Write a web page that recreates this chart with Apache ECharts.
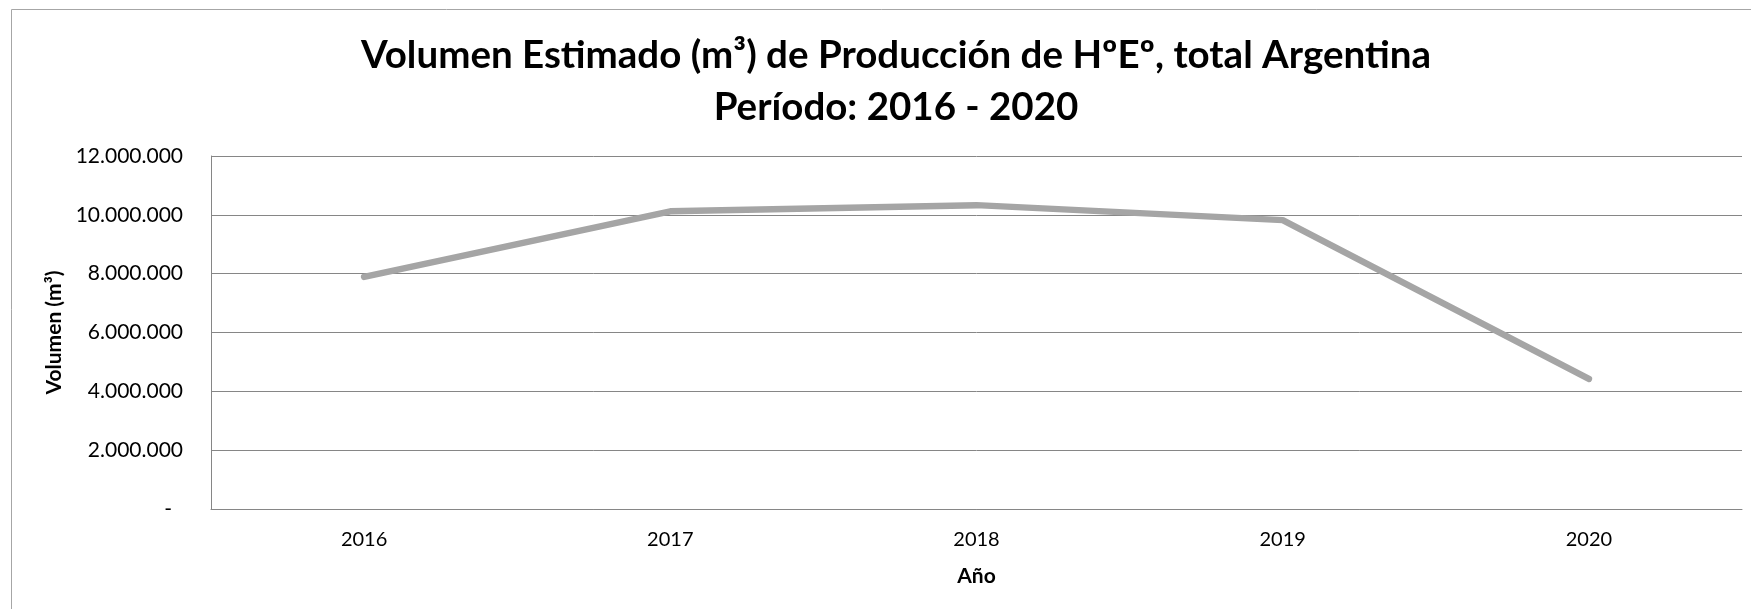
<!DOCTYPE html>
<html>
<head>
<meta charset="utf-8">
<script src="https://cdn.jsdelivr.net/npm/echarts@6/dist/echarts.min.js"></script>
<style>
html,body{margin:0;padding:0;background:#fff;}
#chart{width:1751px;height:609px;}
</style>
</head>
<body>
<div id="chart"></div>
<script>
const categories = ['2016', '2017', '2018', '2019', '2020'];
const volumen = [7890000, 10120000, 10330000, 9820000, 4420000];
const yTicks = { min: 0, max: 12000000, interval: 2000000 };
const titleLines = ['Volumen Estimado (m³) de Producción de HºEº, total Argentina', 'Período: 2016 - 2020'];

const FONT = 'Lato, "Open Sans", sans-serif';
function fmt(v) {
  if (v === 0) return '{z|-}';
  return String(Math.round(v)).replace(/\B(?=(\d{3})+(?!\d))/g, '.');
}

const chart = echarts.init(document.getElementById('chart'), null, { renderer: 'canvas' });
chart.setOption({
  backgroundColor: '#ffffff',
  animation: false,
  title: {
    text: titleLines.join('\n'),
    left: 891,
    textAlign: 'center',
    top: 25,
    textStyle: { fontFamily: FONT, fontWeight: 'bold', fontSize: 38.5, lineHeight: 52, color: '#000' }
  },
  graphic: [
    { type: 'line', shape: { x1: 11.5, y1: 9.5, x2: 1751, y2: 9.5 }, style: { stroke: '#a6a6a6', lineWidth: 1 } },
    { type: 'line', shape: { x1: 11.5, y1: 9.5, x2: 11.5, y2: 609 }, style: { stroke: '#a6a6a6', lineWidth: 1 } }
  ],
  grid: { left: 211, right: 9, top: 156, bottom: 100, containLabel: false },
  xAxis: {
    type: 'category',
    data: categories,
    boundaryGap: true,
    name: 'Año',
    nameLocation: 'middle',
    nameGap: 57,
    nameTextStyle: { fontFamily: FONT, fontWeight: 'bold', fontSize: 21, color: '#000' },
    axisLine: { show: true, lineStyle: { color: '#868686', width: 1 } },
    axisTick: { show: false },
    axisLabel: { fontFamily: FONT, fontSize: 20, color: '#000', margin: 21 },
    splitLine: { show: false }
  },
  yAxis: {
    type: 'value',
    min: yTicks.min,
    max: yTicks.max,
    interval: yTicks.interval,
    name: 'Volumen (m³)',
    nameLocation: 'middle',
    nameGap: 145,
    nameRotate: 90,
    nameTextStyle: { fontFamily: FONT, fontWeight: 'bold', fontSize: 21, color: '#000' },
    axisLine: { show: true, lineStyle: { color: '#868686', width: 1 } },
    axisTick: { show: false },
    axisLabel: {
      fontFamily: FONT, fontSize: 21, color: '#000', margin: 28,
      formatter: fmt,
      rich: { z: { fontFamily: FONT, fontSize: 21, color: '#000', padding: [0, 11, 0, 0] } }
    },
    splitLine: { show: true, lineStyle: { color: '#868686', width: 1 } }
  },
  series: [{
    type: 'line',
    data: volumen,
    symbol: 'none',
    lineStyle: { color: '#a5a5a5', width: 6.5, cap: 'round', join: 'round' },
    itemStyle: { color: '#a5a5a5' }
  }]
});
</script>
</body>
</html>
